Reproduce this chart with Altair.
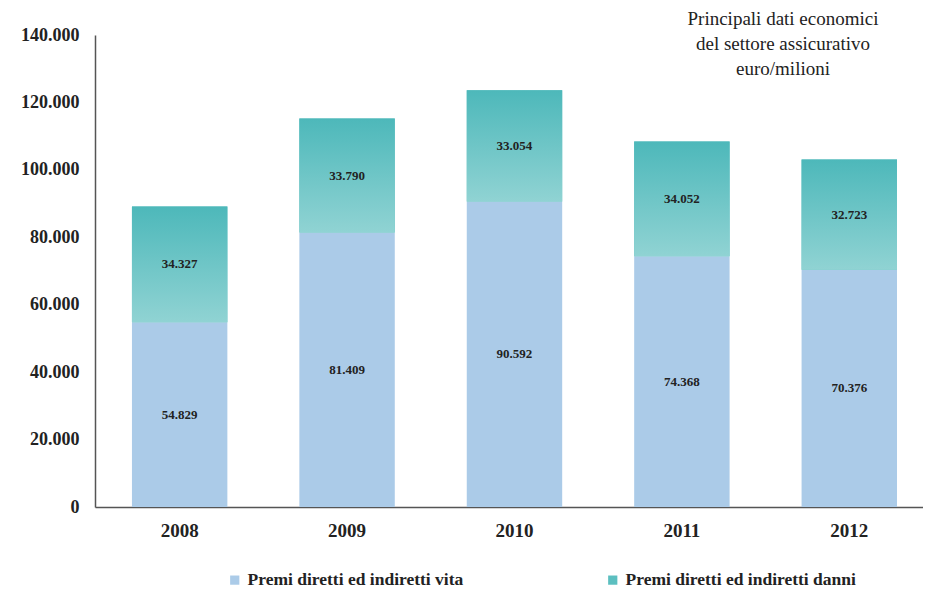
import altair as alt
import pandas as pd

years = ["2008", "2009", "2010", "2011", "2012"]
vita = [54829, 81409, 90592, 74368, 70376]
danni = [34327, 33790, 33054, 34052, 32723]
series_names = ["Premi diretti ed indiretti vita", "Premi diretti ed indiretti danni"]
title_lines = ["Principali dati economici", "del settore assicurativo", "euro/milioni"]

def fmt(v):
    return f"{v:,}".replace(",", ".")

rows = []
for y, v, d in zip(years, vita, danni):
    rows.append({"anno": y, "serie": series_names[0], "start": 0, "end": v, "mid": v / 2, "label": fmt(v), "ord": 0})
    rows.append({"anno": y, "serie": series_names[1], "start": v, "end": v + d, "mid": v + d / 2, "label": fmt(d), "ord": 1})
df = pd.DataFrame(rows)

FONT = "Liberation Serif"
W, H = 828, 472

xenc = alt.X("anno:N", title=None,
             scale=alt.Scale(paddingInner=0.43, paddingOuter=0.188, align=0.587),
             axis=alt.Axis(labelAngle=0, ticks=False, domainColor="#555555", domainWidth=1.5,
                           labelFont=FONT, labelFontSize=19, labelFontWeight="bold",
                           labelColor="#222222", labelPadding=14))
yscale = alt.Scale(domain=[0, 140000])

base = alt.Chart(df)

bars = base.mark_bar().encode(
    x=xenc,
    y=alt.Y("start:Q", scale=yscale, title=None,
            axis=alt.Axis(values=list(range(0, 140001, 20000)), grid=False, ticks=False,
                          domainColor="#555555", domainWidth=1.5,
                          labelFont=FONT, labelFontSize=18, labelFontWeight="bold",
                          labelColor="#222222", labelPadding=16,
                          labelExpr="replace(format(datum.value, ','), ',', '.')")),
    y2="end:Q",
    color=alt.Color("serie:N",
                    scale=alt.Scale(domain=series_names, range=["#abcbe8", "#5cbfc0"]),
                    legend=alt.Legend(title=None, orient="none", direction="horizontal",
                                      legendX=131, legendY=536, symbolType="square",
                                      symbolSize=85, symbolStrokeWidth=0,
                                      labelFont=FONT, labelFontSize=17.5, labelFontWeight="bold",
                                      labelColor="#222222", labelOffset=4,
                                      columnPadding=140, labelLimit=400)),
)

grad = alt.Gradient(gradient="linear", x1=0, y1=1, x2=0, y2=0,
                    stops=[alt.GradientStop(offset=0, color="#90d3d3"),
                           alt.GradientStop(offset=1, color="#4db8ba")])
top = alt.Chart(df).transform_filter(alt.datum.ord == 1).mark_bar(fill=grad).encode(
    x=alt.X("anno:N"), y=alt.Y("start:Q", scale=yscale), y2="end:Q"
)

labels = base.mark_text(font=FONT, fontSize=13, fontWeight="bold", color="#222222").encode(
    x=alt.X("anno:N"), y=alt.Y("mid:Q", scale=yscale), text="label:N"
)

chart = alt.layer(bars, top, labels).properties(
    width=W, height=H,
    autosize=alt.AutoSizeParams(type="none"),
    padding={"left": 87, "top": 27, "right": 0, "bottom": 88},
    title=alt.TitleParams(text=title_lines, anchor="start", align="center", frame="group",
                          dx=688, dy=53, baseline="top", offset=0,
                          font=FONT, fontSize=19, fontWeight="normal", color="#222222",
                          lineHeight=25),
).configure(font=FONT).configure_view(stroke=None)

chart.save("out.html", embed_options={"renderer": "svg", "actions": False})
